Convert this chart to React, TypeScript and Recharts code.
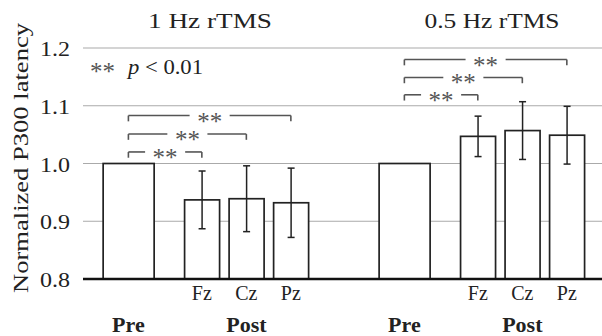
import React from 'react';
import {
  ComposedChart,
  Bar,
  XAxis,
  YAxis,
  CartesianGrid,
  ErrorBar,
  ReferenceLine,
  ReferenceDot,
} from 'recharts';

// values
const groupTitles = ['1 Hz  rTMS', '0.5 Hz rTMS'];
const conditions = ['Pre', 'Fz', 'Cz', 'Pz'];
const latency1Hz = [1.0, 0.937, 0.939, 0.932];
const sd1Hz = [null, 0.05, 0.057, 0.06];
const latency05Hz = [1.0, 1.047, 1.057, 1.049];
const sd05Hz = [null, 0.035, 0.05, 0.05];
const yTicks = [0.8, 0.9, 1.0, 1.1, 1.2];
// significance brackets: from, to, height (in latency units)
const brackets1Hz = [
  ['Pre', 'Fz', 1.02],
  ['Pre', 'Cz', 1.051],
  ['Pre', 'Pz', 1.083],
];
const brackets05Hz = [
  ['Pre', 'Fz', 1.119],
  ['Pre', 'Cz', 1.149],
  ['Pre', 'Pz', 1.18],
];

// layout of the bar slots along the x axis
const slotX = [0, 1.65, 2.65, 3.65];
const groupOffset = [0, 6.2];

const FONT = '"Liberation Serif", "Times New Roman", serif';

const series = [
  { values: latency1Hz, errs: sd1Hz, brackets: brackets1Hz },
  { values: latency05Hz, errs: sd05Hz, brackets: brackets05Hz },
];

const rows = series.flatMap((s, g) =>
  conditions.map((c, i) => ({
    x: groupOffset[g] + slotX[i],
    value: s.values[i],
    err: s.errs[i],
    cond: c,
    group: g,
  }))
);

const posOf = (g, c) => groupOffset[g] + slotX[conditions.indexOf(c)];

const BarShape = (props) => {
  const { x, y, width, height, payload } = props;
  const w = payload.cond === 'Pre' ? 51 : width;
  const cx = x + width / 2;
  return (
    <rect x={cx - w / 2} y={y} width={w} height={height} fill="#fff" stroke="#222" strokeWidth={1.7} />
  );
};

const YTick = ({ x, y, payload }) => (
  <text
    x={x}
    y={y + 8}
    textAnchor="end"
    fontFamily={FONT}
    fontSize={20}
    fill="#222"
    textLength={30}
    lengthAdjust="spacingAndGlyphs"
  >
    {payload.value.toFixed(1)}
  </text>
);

const XTick = ({ x, y, payload }) => {
  const row = rows.find((r) => Math.abs(r.x - payload.value) < 1e-6);
  if (!row) return null;
  return (
    <g fontFamily={FONT} fill="#222">
      {row.cond !== 'Pre' && (
        <text x={x} y={y + 21} textAnchor="middle" fontSize={20}>
          {row.cond}
        </text>
      )}
      {row.cond === 'Pre' && (
        <text x={x} y={y + 53} textAnchor="middle" fontSize={22} fontWeight="bold">
          Pre
        </text>
      )}
      {row.cond === 'Cz' && (
        <text x={x} y={y + 53} textAnchor="middle" fontSize={22} fontWeight="bold">
          Post
        </text>
      )}
    </g>
  );
};

const Stars = ({ cx, cy }) => (
  <text x={cx} y={cy + 14} textAnchor="middle" fontFamily={FONT} fontSize={25} fill="#555">
    **
  </text>
);

const gapHalf = 0.45;
const drop = 0.01;
const lineProps = { stroke: '#555', strokeWidth: 1.6, ifOverflow: 'visible' };

const bracketMarks = series.flatMap((s, g) =>
  s.brackets.flatMap(([from, to, h], k) => {
    const x1 = posOf(g, from);
    const x2 = posOf(g, to);
    const mid = (x1 + x2) / 2;
    const key = `b${g}-${k}`;
    return [
      <ReferenceLine key={key + 'l'} segment={[{ x: x1, y: h - drop }, { x: x1, y: h }]} {...lineProps} />,
      <ReferenceLine key={key + 'a'} segment={[{ x: x1, y: h }, { x: mid - gapHalf, y: h }]} {...lineProps} />,
      <ReferenceLine key={key + 'b'} segment={[{ x: mid + gapHalf, y: h }, { x: x2, y: h }]} {...lineProps} />,
      <ReferenceLine key={key + 'r'} segment={[{ x: x2, y: h }, { x: x2, y: h - drop }]} {...lineProps} />,
      <ReferenceDot key={key + 's'} x={mid} y={h} r={0} shape={Stars} ifOverflow="visible" />,
    ];
  })
);

export default function App() {
  return (
    <div style={{ position: 'relative', width: 602, height: 336 }}>
      <style>{'body{margin:0}'}</style>
      <ComposedChart
        width={602}
        height={336}
        data={rows}
        margin={{ top: 48, right: 0, bottom: 0, left: 0 }}
      >
        <CartesianGrid vertical={false} stroke="#aaa" strokeWidth={1.2} />
        <XAxis
          type="number"
          dataKey="x"
          domain={[-1.02, 10.64]}
          ticks={rows.map((r) => r.x)}
          interval={0}
          height={57}
          tickSize={0}
          tickMargin={0}
          tickLine={false}
          axisLine={{ stroke: '#111', strokeWidth: 2.5 }}
          tick={<XTick />}
          allowDataOverflow
        />
        <YAxis
          type="number"
          domain={[0.8, 1.2]}
          ticks={yTicks}
          width={83}
          axisLine={false}
          tickLine={false}
          tickSize={0}
          tickMargin={13}
          tick={<YTick />}
          allowDataOverflow
        />
        <Bar dataKey="value" barSize={35} shape={<BarShape />} isAnimationActive={false}>
          <ErrorBar dataKey="err" width={3.5} stroke="#222" strokeWidth={1.5} direction="y" />
        </Bar>
        {bracketMarks}
      </ComposedChart>
      <svg
        width={602}
        height={336}
        style={{ position: 'absolute', left: 0, top: 0, pointerEvents: 'none', whiteSpace: 'pre' }}
        fontFamily={FONT}
        fill="#222"
      >
        <text x={210} y={28} textAnchor="middle" fontSize={21} textLength={124} lengthAdjust="spacingAndGlyphs">
          {groupTitles[0]}
        </text>
        <text x={492} y={28} textAnchor="middle" fontSize={21} textLength={135} lengthAdjust="spacingAndGlyphs">
          {groupTitles[1]}
        </text>
        <text
          transform="translate(28,158) rotate(-90)"
          textAnchor="middle"
          fontSize={22}
          textLength={270}
          lengthAdjust="spacingAndGlyphs"
        >
          Normalized P300 latency
        </text>
        <text x={90} y={80} fontSize={25} fill="#555">
          **
        </text>
        <text x={128} y={74} fontSize={21} textLength={75} lengthAdjust="spacingAndGlyphs">
          <tspan fontStyle="italic">p</tspan>
          {' < 0.01'}
        </text>
      </svg>
    </div>
  );
}
